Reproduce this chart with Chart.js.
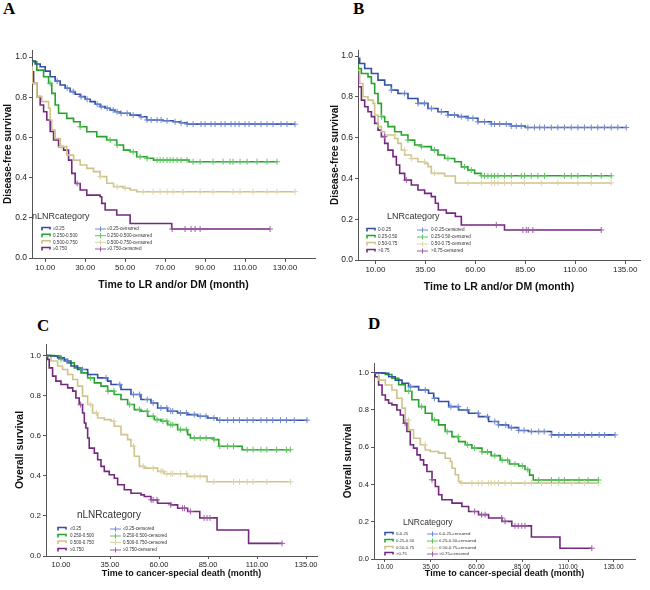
<!DOCTYPE html>
<html>
<head>
<meta charset="utf-8">
<script src="https://cdn.jsdelivr.net/npm/chart.js@4"></script>
<style>
  body { margin: 0; background: #fff; }
  #wrap { position: relative; width: 650px; height: 590px; overflow: hidden; }
  canvas { position: absolute; }
  .lbl { position: absolute; font: bold 17px "Liberation Serif", "Times New Roman", serif; line-height: 1; color: #000; }
</style>
</head>
<body>
<div id="wrap">
  <div class="lbl" style="left:3px;top:0px">A</div>
  <div class="lbl" style="left:353px;top:0px">B</div>
  <div class="lbl" style="left:37px;top:317px">C</div>
  <div class="lbl" style="left:368px;top:315px">D</div>
  <canvas id="cA" width="325" height="249" style="left:0px;top:42px"></canvas>
  <canvas id="cB" width="322" height="251" style="left:328px;top:42px"></canvas>
  <canvas id="cC" width="314" height="243" style="left:13px;top:336px"></canvas>
  <canvas id="cD" width="304" height="224" style="left:341px;top:355px"></canvas>
</div>
<script>
// tick labels
var xTicksA = [10, 30, 50, 70, 90, 110, 130];
var xTicksB = [10, 35, 60, 85, 110, 135];
var yTicks = [0, 0.2, 0.4, 0.6, 0.8, 1.0];

// group names
var nlnrGroups = ['\u22640.25', '0.250-0.500', '0.500-0.750', '\u22650.750'];
var lnrGroups = ['0-0.25', '0.25-0.50', '0.50-0.75', '>0.75'];

// panel A: [month, survival] steps
var aLow = [[0,0.98],[5,0.965],[7.5,0.952],[10,0.93],[12.5,0.902],[15,0.88],[17.5,0.861],[20,0.845],[22.5,0.828],[25,0.815],[27.5,0.803],[30,0.79],[32.5,0.778],[35,0.765],[37.5,0.753],[40,0.745],[42.5,0.736],[45,0.728],[47.5,0.72],[52.5,0.711],[57.5,0.703],[60.8,0.687],[69,0.683],[74,0.678],[77.5,0.673],[81,0.666],[135,0.666]];
var aMid1 = [[0,0.977],[5.8,0.935],[9.2,0.902],[11.7,0.869],[13.3,0.819],[15,0.761],[16.7,0.72],[20.8,0.695],[24.2,0.678],[27.5,0.653],[30.8,0.628],[35.8,0.604],[40.8,0.587],[45.8,0.562],[49.2,0.537],[52.5,0.529],[55.8,0.504],[60.8,0.496],[64.2,0.487],[82,0.479],[126,0.479]];
var aMid2 = [[0,0.95],[3.5,0.87],[5.8,0.803],[8.3,0.778],[11.7,0.745],[12.5,0.687],[13.3,0.637],[15,0.595],[17.5,0.554],[20.8,0.512],[24.2,0.487],[27.5,0.463],[30.8,0.446],[34.2,0.43],[37.5,0.405],[40.8,0.372],[44.2,0.355],[49.2,0.347],[52.5,0.338],[55.8,0.33],[135,0.33]];
var aHigh = [[0,0.927],[4.2,0.869],[5.8,0.803],[7.5,0.761],[9.2,0.728],[10.8,0.687],[12.5,0.63],[14.2,0.587],[16.7,0.554],[19.2,0.537],[21.7,0.487],[23.3,0.421],[25,0.371],[27.5,0.338],[30.8,0.313],[37.5,0.305],[38.3,0.272],[40,0.239],[45.8,0.214],[52.5,0.172],[73.3,0.144],[122.5,0.144]];
// censored times
var aLowC = [16,21,24,28,31,36,38,41,44,46,48,51,54,58,61,63,66,68,71,75,78,81,84,88,90,93,95,98,100,103,105,107,110,112,115,118,121,124,128,131,135];
var aMid1C = [12.5,27.5,42.5,46,54,57.5,61,66,67.5,69,71,72.5,74,76,78,81,84,87.5,94,99,102.5,104,107.5,111,116,121,126];
var aMid2C = [18,37.5,46,50,59,64,67.5,71,74,79,87.5,94,104,107.5,114,121,126,135];
var aHighC = [26,73.5,80,83,85,87.5,122.5];

// panel B
var bLow = [[0,0.989],[2.15,0.964],[4.65,0.939],[8,0.915],[11.3,0.882],[14.65,0.858],[18,0.833],[21.3,0.817],[26.3,0.792],[31.3,0.768],[36.3,0.743],[41.3,0.727],[46.3,0.711],[51.3,0.703],[56.3,0.695],[61.3,0.678],[68,0.667],[78,0.657],[85,0.65],[135.5,0.65]];
var bMid1 = [[0,0.956],[1.3,0.939],[3,0.915],[6.3,0.898],[8,0.866],[9.65,0.817],[11.3,0.768],[13,0.703],[14.65,0.678],[16.3,0.654],[19.65,0.629],[23,0.613],[26.3,0.588],[29.65,0.564],[33,0.556],[38,0.539],[41.3,0.515],[44.65,0.498],[49.65,0.482],[53,0.457],[56.3,0.441],[59.65,0.425],[63,0.413],[128,0.413]];
var bMid2 = [[0,0.931],[2.15,0.866],[3.8,0.801],[6.3,0.784],[8.8,0.768],[9.65,0.711],[11.3,0.654],[13,0.629],[14.65,0.613],[19.65,0.596],[21.3,0.572],[23,0.539],[24.65,0.515],[28,0.498],[31.3,0.482],[34.65,0.474],[36.3,0.458],[38,0.425],[44.65,0.412],[50,0.378],[128,0.378]];
var bHigh = [[0,0.899],[1.3,0.85],[3,0.784],[4.65,0.752],[6.3,0.727],[8,0.703],[9.65,0.67],[11.3,0.637],[13,0.605],[14.65,0.572],[16.3,0.539],[18.8,0.507],[20.5,0.466],[22.15,0.425],[24.65,0.392],[28,0.368],[31.3,0.343],[34.65,0.327],[38,0.311],[40,0.278],[41.5,0.245],[45.5,0.23],[50,0.213],[53,0.172],[74.6,0.147],[123,0.147]];
var bLowC = [18,24.6,31.3,34.6,38,43,46.3,49.6,53,56.3,58.8,61.3,64.6,68,69.6,72.2,75.5,78,80.5,83,86.3,89.6,92.2,94.6,98,101.3,104.6,108,111.3,114.6,118,121.3,124.6,128,131.3,135.5];
var bMid1C = [13,26.3,33,39.6,46.3,54.6,58,63,64.6,66.3,68,69.6,71.3,74.6,78,83,84.6,88,91.3,94.6,104.6,108,111.3,118,123,128];
var bMid2C = [19.6,24.6,28,34.6,39.6,56.3,63,68,69.6,71.3,74.6,78,84.6,93,101.3,111.3,118,128];
var bHighC = [14.6,25.5,70.5,83.8,85.5,86.5,88.8,123];

// panel C
var cLow = [[0,1.0],[4.9,0.997],[8.3,0.988],[11.7,0.972],[15.1,0.947],[18.5,0.93],[23.6,0.905],[28.7,0.888],[33.8,0.872],[35.5,0.855],[40.6,0.83],[45.7,0.805],[50.8,0.78],[55.9,0.763],[59.3,0.738],[64.4,0.722],[69.5,0.713],[74.6,0.705],[79.7,0.697],[84.8,0.688],[89.6,0.677],[135.5,0.677]];
var cMid1 = [[0,1.0],[6.6,0.997],[10,0.98],[13.4,0.963],[16.8,0.938],[20.2,0.913],[23.6,0.888],[27,0.863],[30.4,0.847],[33.8,0.822],[37.2,0.805],[40.6,0.78],[44,0.755],[47.4,0.73],[50.8,0.722],[54.2,0.697],[57.6,0.68],[61,0.672],[64.4,0.655],[69.5,0.63],[74.6,0.605],[76,0.588],[87.9,0.58],[90.5,0.547],[102.4,0.53],[127,0.53]];
var cMid2 = [[0,0.997],[4.9,0.972],[8.3,0.947],[10.8,0.93],[13.4,0.905],[16,0.88],[18.5,0.847],[21,0.797],[23.6,0.755],[26.1,0.713],[28.7,0.688],[32.1,0.68],[35.5,0.672],[37.2,0.647],[40.6,0.605],[44,0.58],[45.7,0.547],[47.4,0.497],[50,0.447],[52.5,0.438],[59.3,0.422],[62.7,0.41],[74.3,0.397],[84.5,0.37],[127,0.37]];
var cHigh = [[0,1.0],[3.2,0.98],[4,0.938],[5.7,0.897],[7.4,0.872],[10,0.855],[13.4,0.838],[16,0.822],[17.6,0.788],[19.3,0.755],[21,0.713],[21.9,0.663],[22.7,0.638],[23.6,0.588],[24.4,0.538],[27,0.513],[28.7,0.48],[30.4,0.447],[32.1,0.422],[34.6,0.405],[37.2,0.388],[38.9,0.355],[42.3,0.33],[45.7,0.313],[50.8,0.305],[52.5,0.297],[55.9,0.28],[59.3,0.263],[66,0.255],[69.5,0.238],[74.6,0.222],[80.8,0.19],[89.6,0.13],[105.7,0.063],[122.8,0.063]];
var cLowC = [13,21,33,40,47,50,54,57,61,64,66,67,71,74,78,81,84,88,91,95,98,101,105,108,112,115,118,122,125,129,135.5];
var cMid1C = [10,25,34,37,45,50,54,57,59,62,64,66,67,71,74,78,81,84,88,91,95,98,105,108,112,115,120,125,127];
var cMid2C = [25,28,37,47,52,57,61,62,64,66,67,71,74,78,81,88,98,101,105,108,115,127];
var cHighC = [20,56,57,59,66,72,73,76,83,84.5,86,122.8];

// panel D
var dLow = [[0,1.0],[8.4,0.997],[12,0.978],[15.6,0.96],[19.3,0.943],[22.9,0.925],[28.4,0.907],[33.8,0.89],[36.6,0.863],[39.3,0.845],[44.8,0.818],[50.2,0.8],[55.7,0.782],[61.1,0.764],[66.6,0.738],[72,0.72],[77.5,0.705],[83,0.69],[88.4,0.684],[101,0.666],[135.7,0.666]];
var dMid1 = [[0,1.0],[10.2,0.99],[13.8,0.97],[17.5,0.935],[21.1,0.9],[24.7,0.855],[28.4,0.818],[32,0.782],[35.7,0.746],[39.3,0.72],[42.9,0.684],[46.6,0.657],[50.2,0.63],[53.9,0.613],[57.5,0.595],[63,0.575],[68,0.555],[73,0.53],[78,0.51],[83,0.5],[86.5,0.48],[89,0.45],[91,0.424],[127,0.424]];
var dMid2 = [[0,0.997],[6.5,0.96],[10.2,0.934],[13.8,0.907],[16.5,0.863],[19.3,0.81],[21.1,0.746],[22.9,0.693],[25.6,0.648],[29.3,0.613],[32,0.585],[34.7,0.577],[39.3,0.568],[42.9,0.541],[45.7,0.523],[46.6,0.487],[48.4,0.452],[50.2,0.416],[51.1,0.407],[126.5,0.407]];
var dHigh = [[0,1.0],[4.7,0.978],[6.5,0.934],[8.4,0.88],[10.2,0.854],[12,0.836],[13.8,0.827],[16.5,0.8],[18.4,0.773],[20.2,0.729],[22,0.684],[23.8,0.613],[25.6,0.595],[27.5,0.559],[29.3,0.532],[31.1,0.505],[32.9,0.47],[35.7,0.425],[37.5,0.389],[39.3,0.345],[41.1,0.318],[46.6,0.3],[52,0.282],[55.7,0.255],[61.1,0.238],[66.6,0.22],[73.9,0.202],[79.3,0.178],[90,0.118],[105.6,0.058],[123,0.058]];
var dLowC = [24,32,37,46,50,55,61,66,70,72,76,79,83,86,90,94,97,101,105,108,112,116,119,123,127,130,135.7];
var dMid1C = [23,30,37,44,50,55,59,63,66,70,74,77,81,85,88,94,101,105,108,116,121,126.6];
var dMid2C = [22.8,31.9,52,57.5,61,63,66.5,68,70,72,75.6,79,86.5,90,95.6,101,104.7,112,119,126.5];
var dHighC = [21,35.7,59,62.8,64.7,73.8,75.6,81,82.8,84.7,86.5,123];

var lineColors = ['#324ea5', '#27a32c', '#cfc38c', '#73297e'];
var crossColors = ['#6f8ad3', '#5cc560', '#dbd3a6', '#9d5ca8'];
var FONT = '"Liberation Sans", Arial, sans-serif';

// survival value at time t (step function)
function survAt(curve, t) {
  var s = curve[0][1];
  for (var i = 0; i < curve.length; i++) {
    if (curve[i][0] <= t) s = curve[i][1]; else break;
  }
  return s;
}

// legend drawn inside the plot, like SPSS
var kmLegend = {
  id: 'kmLegend',
  afterDraw: function(chart, args, o) {
    var ctx = chart.ctx;
    ctx.save();
    ctx.fillStyle = '#333';
    ctx.textBaseline = 'middle';
    ctx.textAlign = 'left';
    ctx.font = o.titleSize + 'px ' + FONT;
    ctx.fillText(o.title, o.titleX, o.titleY);
    ctx.font = o.size + 'px ' + FONT;
    for (var i = 0; i < 4; i++) {
      var y = o.rows[i];
      // step icon
      ctx.strokeStyle = lineColors[i];
      ctx.lineWidth = 1.6;
      ctx.beginPath();
      ctx.moveTo(o.c1, y + 1.5);
      ctx.lineTo(o.c1, y - 1.5);
      ctx.lineTo(o.c1 + 8, y - 1.5);
      ctx.lineTo(o.c1 + 8, y + 0.5);
      ctx.stroke();
      // censored icon
      ctx.strokeStyle = crossColors[i];
      ctx.lineWidth = 1;
      ctx.beginPath();
      ctx.moveTo(o.c2, y);
      ctx.lineTo(o.c2 + 11, y);
      ctx.moveTo(o.c2 + 5.5, y - 2.5);
      ctx.lineTo(o.c2 + 5.5, y + 2.5);
      ctx.stroke();
      ctx.fillText(o.labels[i], o.t1, y);
      ctx.fillText(o.labels[i] + '-censored', o.t2, y);
    }
    ctx.restore();
  }
};

function makePanel(id, left, top, p) {
  var datasets = [];
  p.curves.forEach(function(c, i) {
    datasets.push({
      type: 'scatter',
      data: p.cens[i].map(function(t) { return {x: t, y: survAt(c, t)}; }),
      pointStyle: 'cross', pointRadius: 3, pointBorderWidth: 1,
      borderColor: crossColors[i], backgroundColor: crossColors[i]
    });
  });
  p.curves.forEach(function(c, i) {
    datasets.push({
      type: 'line',
      data: c.map(function(d) { return {x: d[0], y: d[1]}; }),
      stepped: true, borderColor: lineColors[i], borderWidth: 1.6,
      pointRadius: 0, fill: false
    });
  });
  var lg = p.legend;
  return new Chart(document.getElementById(id), {
    type: 'scatter',
    data: { datasets: datasets },
    options: {
      responsive: false,
      animation: false,
      devicePixelRatio: 1,
      layout: { padding: { top: 8, right: 10, left: 0, bottom: 0 } },
      plugins: {
        legend: { display: false },
        tooltip: { enabled: false },
        kmLegend: {
          title: lg.title, labels: lg.labels, titleSize: lg.titleSize, size: lg.size,
          titleX: lg.titleX - left, titleY: lg.titleY - top,
          rows: lg.rows.map(function(r) { return r - top; }),
          c1: lg.c1 - left, t1: lg.t1 - left, c2: lg.c2 - left, t2: lg.t2 - left
        }
      },
      scales: {
        x: {
          type: 'linear', min: p.xMin, max: p.xMax,
          afterBuildTicks: function(s) { s.ticks = p.xTicks.map(function(v) { return {value: v}; }); },
          afterFit: function(s) { s.height = p.hx; },
          ticks: { autoSkip: false, maxRotation: 0, padding: 1, color: '#222',
                   font: { family: FONT, size: p.xTickSize },
                   callback: function(v) { return Number(v).toFixed(2); } },
          grid: { drawOnChartArea: false, drawTicks: true, tickLength: p.tickLen, color: '#555' },
          border: { color: '#555', width: 1 },
          title: { display: true, text: p.xTitle, color: '#111', padding: 0,
                   font: { family: FONT, size: p.xTitleSize, weight: 'bold' } }
        },
        y: {
          type: 'linear', min: 0, max: p.yMax,
          afterBuildTicks: function(s) { s.ticks = yTicks.map(function(v) { return {value: v}; }); },
          afterFit: function(s) { s.width = p.wy; },
          ticks: { padding: 2, color: '#222', font: { family: FONT, size: p.yTickSize },
                   callback: function(v) { return Number(v).toFixed(1); } },
          grid: { drawOnChartArea: false, drawTicks: true, tickLength: 3, color: '#555' },
          border: { color: '#555', width: 1 },
          title: { display: true, text: p.yTitle, color: '#111', padding: { top: p.yTitlePad, bottom: 0 },
                   font: { family: FONT, size: p.yTitleSize, weight: 'bold' } }
        }
      }
    },
    plugins: [kmLegend]
  });
}

makePanel('cA', 0, 42, {
  curves: [aLow, aMid1, aMid2, aHigh], cens: [aLowC, aMid1C, aMid2C, aHighC],
  xMin: 3.4, xMax: 145, yMax: 1.035, xTicks: xTicksA, wy: 32, hx: 33, tickLen: 4,
  xTickSize: 8, yTickSize: 8.5, xTitle: 'Time to LR and/or DM (month)', xTitleSize: 10.5,
  yTitle: 'Disease-free survival', yTitleSize: 10, yTitlePad: 2,
  legend: { title: 'nLNRcategory', labels: nlnrGroups, titleSize: 9, size: 4.6,
            titleX: 32, titleY: 217, rows: [229, 235.7, 242.3, 249], c1: 42, t1: 53, c2: 95, t2: 107 }
});
makePanel('cB', 328, 42, {
  curves: [bLow, bMid1, bMid2, bHigh], cens: [bLowC, bMid1C, bMid2C, bHighC],
  xMin: 1.3, xMax: 142.4, yMax: 1.03, xTicks: xTicksB, wy: 30, hx: 33, tickLen: 4,
  xTickSize: 8, yTickSize: 8.5, xTitle: 'Time to LR and/or DM (month)', xTitleSize: 10.5,
  yTitle: 'Disease-free survival', yTitleSize: 10, yTitlePad: 1,
  legend: { title: 'LNRcategory', labels: lnrGroups, titleSize: 9, size: 4.6,
            titleX: 387, titleY: 217, rows: [230, 237, 244, 251], c1: 367, t1: 378, c2: 417, t2: 431 }
});
makePanel('cC', 13, 336, {
  curves: [cLow, cMid1, cMid2, cHigh], cens: [cLowC, cMid1C, cMid2C, cHighC],
  xMin: 2.35, xMax: 140.6, yMax: 1.057, xTicks: xTicksB, wy: 33, hx: 23, tickLen: 3,
  xTickSize: 7.5, yTickSize: 8, xTitle: 'Time to cancer-special death (month)', xTitleSize: 9,
  yTitle: 'Overall survival', yTitleSize: 10.5, yTitlePad: 1,
  legend: { title: 'nLNRcategory', labels: nlnrGroups, titleSize: 10, size: 4.5,
            titleX: 77, titleY: 515, rows: [529, 536, 542.5, 550], c1: 58, t1: 70, c2: 110, t2: 123 }
});
makePanel('cD', 341, 355, {
  curves: [dLow, dMid1, dMid2, dHigh], cens: [dLowC, dMid1C, dMid2C, dHighC],
  xMin: 4, xMax: 146.6, yMax: 1.052, xTicks: xTicksB, wy: 33, hx: 20, tickLen: 3,
  xTickSize: 6.5, yTickSize: 7.5, xTitle: 'Time to cancer-special death (month)', xTitleSize: 9,
  yTitle: 'Overall survival', yTitleSize: 10, yTitlePad: 1,
  legend: { title: 'LNRcategory', labels: lnrGroups, titleSize: 8.5, size: 4.3,
            titleX: 403, titleY: 523, rows: [534, 541, 548, 554], c1: 385, t1: 396, c2: 427, t2: 439 }
});
</script>
</body>
</html>
